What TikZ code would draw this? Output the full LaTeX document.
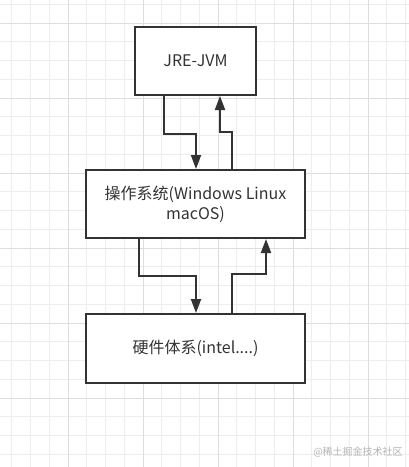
\documentclass[tikz,border=0pt]{standalone}
\usepackage{fontspec}
\setmainfont{Noto Sans CJK SC}
\usetikzlibrary{arrows.meta,calc}
\definecolor{inkgray}{HTML}{333333}
\definecolor{gridminor}{HTML}{EDEDED}
\definecolor{gridmajor}{HTML}{DEDEDE}
\definecolor{markgray}{HTML}{B4B4B4}
\tikzset{
  layer/.style = {
    draw=inkgray,
    line width=2pt,
    fill=white,
    text=inkgray,
    font=\fontsize{16}{20}\selectfont,
    align=center,
    inner sep=0pt
  },
  flow/.style = {
    draw=inkgray,
    line width=2pt,
    -{Triangle[length=14pt,width=10pt]}
  },
}

\begin{document}
\begin{tikzpicture}[x=1pt,y=-1pt]
  \pgfmathsetmacro{\gridstep}{18.75};
  \pgfmathsetmacro{\majorstep}{75};
  % background
  \fill[white] (0,0) rectangle (409,467);
  \useasboundingbox (0,0) rectangle (409,467);
  % grid
  \foreach \i in {0,...,21} {%
    \draw[gridminor,line width=1pt] ({11.75+\i*\gridstep},0) -- ++(0,467);
  }
  \foreach \j in {0,...,24} {%
    \draw[gridminor,line width=1pt] (0,{4.25+\j*\gridstep}) -- ++(409,0);
  }
  \foreach \k in {0,...,4} {%
    \draw[gridmajor,line width=1pt] ({68+\k*\majorstep},0) -- ++(0,467);
  }
  \foreach \k in {0,...,5} {%
    \draw[gridmajor,line width=1pt] (0,{23+\k*\majorstep}) -- ++(409,0);
  }
  % layers
  \node[layer,minimum width=121pt,minimum height=68pt] (jre) at (195.5,61) {JRE-JVM};
  \node[layer,minimum width=219pt,minimum height=68pt] (os) at (195.5,204) {操作系统(Windows Linux\\macOS)};
  \node[layer,minimum width=219pt,minimum height=69pt] (hw) at (195.5,348.5) {硬件体系(intel....)};
  % jre <-> os
  \draw[flow] ([xshift=30pt]jre.south west) -- ++(0,38) -| ([xshift=0.5pt]os.north);
  \draw[flow] ([xshift=36.5pt]os.north) -- ++(0,-37) -| ([xshift=24.5pt]jre.south);
  % os <-> hw
  \draw[flow] ([xshift=54pt]os.south west) -- ++(0,37) -| ([xshift=0.5pt]hw.north);
  \draw[flow] ([xshift=36.5pt]hw.north) -- ++(0,-39) -| ([xshift=70.5pt]os.south);
  % watermark
  \node[text=markgray,font=\fontsize{10}{12}\selectfont,inner sep=0pt] (mark) at (358,452) {@稀土掘金技术社区};
\end{tikzpicture}
\end{document}
